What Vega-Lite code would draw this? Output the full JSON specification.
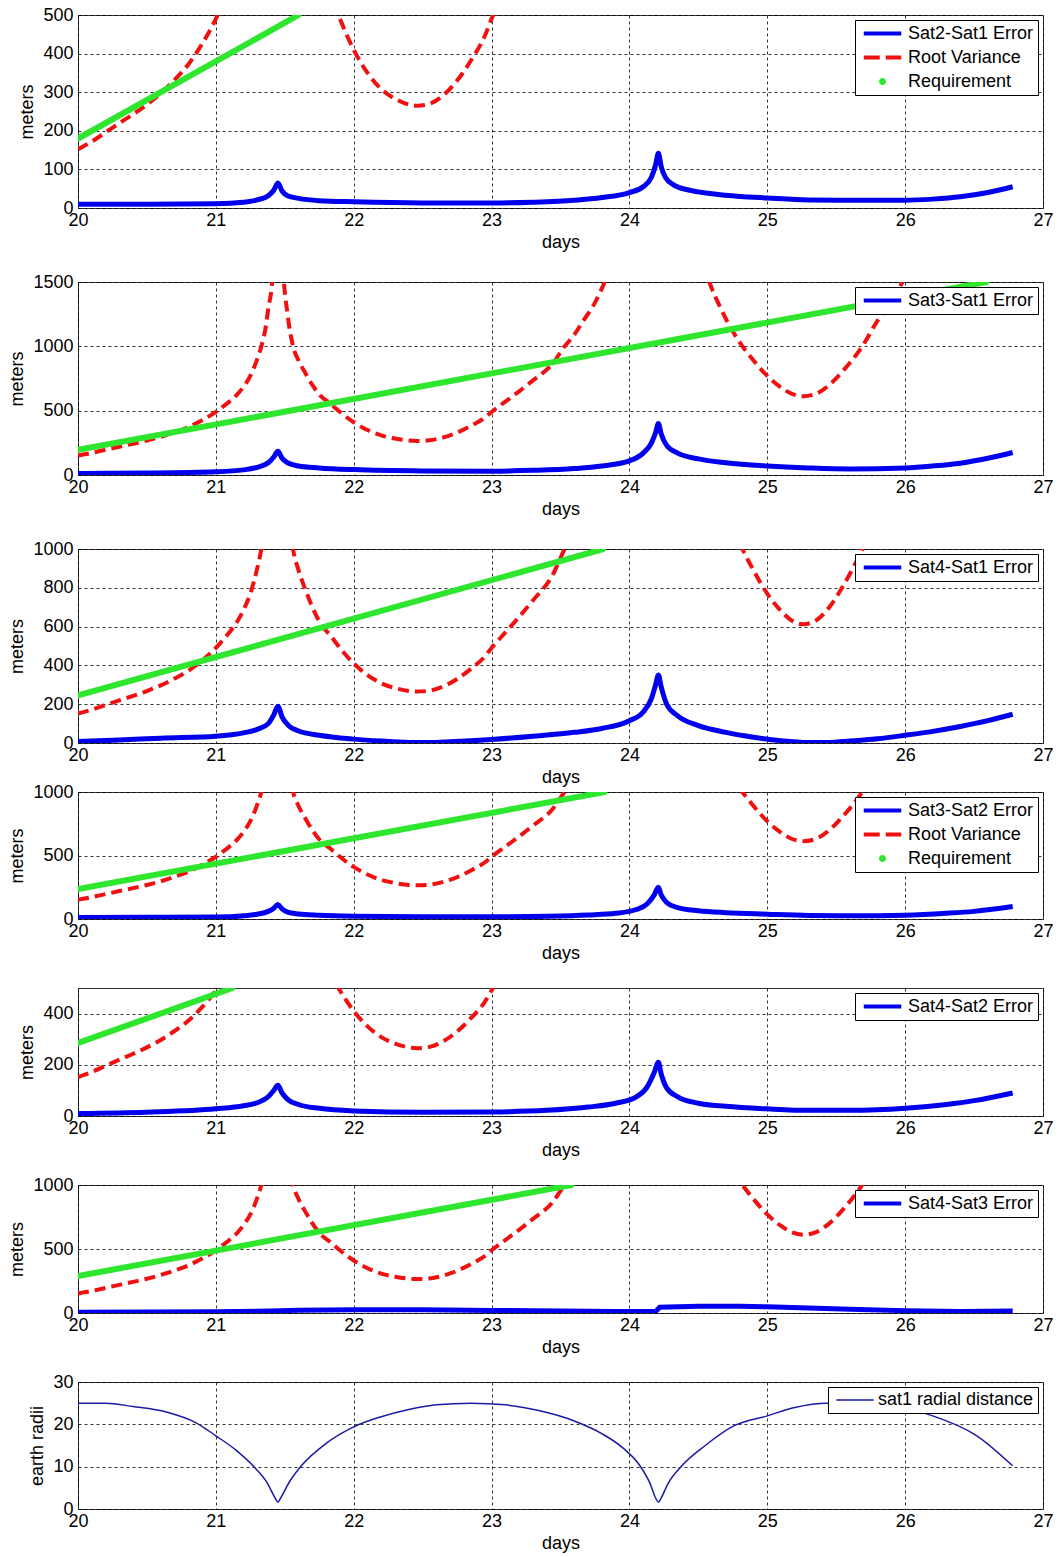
{
  "$schema": "https://vega.github.io/schema/vega-lite/v6.json",
  "padding": {"left": 8, "top": 5, "right": 5, "bottom": 0},
  "background": "#ffffff",
  "datasets": {
    "rv": [
      {"d":20,"v":152},{"d":20.1,"v":172},{"d":20.2,"v":196},{"d":20.3,"v":220},{"d":20.4,"v":243},{"d":20.5,"v":268},{"d":20.6,"v":297},{"d":20.7,"v":332},{"d":20.8,"v":372},{"d":20.9,"v":425},{"d":21.0,"v":490},{"d":21.05,"v":530},{"d":21.1,"v":572},{"d":21.15,"v":620},{"d":21.2,"v":685},{"d":21.25,"v":770},{"d":21.3,"v":900},{"d":21.33,"v":1000},{"d":21.36,"v":1140},{"d":21.38,"v":1290},{"d":21.41,"v":1520},{"d":21.43,"v":1900},{"d":21.45,"v":2600},{"d":21.47,"v":2000},{"d":21.49,"v":1560},{"d":21.52,"v":1250},{"d":21.56,"v":1000},{"d":21.6,"v":890},{"d":21.65,"v":790},{"d":21.7,"v":700},{"d":21.76,"v":615},{"d":21.83,"v":555},{"d":21.9,"v":490},{"d":22.0,"v":410},{"d":22.1,"v":350},{"d":22.2,"v":308},{"d":22.3,"v":283},{"d":22.4,"v":268},{"d":22.46,"v":265},{"d":22.55,"v":270},{"d":22.65,"v":292},{"d":22.75,"v":330},{"d":22.85,"v":382},{"d":22.95,"v":445},{"d":23.0,"v":490},{"d":23.1,"v":570},{"d":23.2,"v":650},{"d":23.3,"v":735},{"d":23.44,"v":862},{"d":23.53,"v":1000},{"d":23.6,"v":1090},{"d":23.66,"v":1190},{"d":23.75,"v":1340},{"d":23.82,"v":1500},{"d":23.9,"v":1750},{"d":24.0,"v":2200},{"d":24.1,"v":3000},{"d":24.2,"v":4000},{"d":24.3,"v":3000},{"d":24.45,"v":2000},{"d":24.58,"v":1500},{"d":24.66,"v":1300},{"d":24.74,"v":1134},{"d":24.82,"v":1000},{"d":24.9,"v":890},{"d":25.0,"v":770},{"d":25.1,"v":680},{"d":25.18,"v":630},{"d":25.26,"v":612},{"d":25.35,"v":630},{"d":25.45,"v":700},{"d":25.55,"v":810},{"d":25.69,"v":1002},{"d":25.8,"v":1200},{"d":25.9,"v":1350},{"d":25.98,"v":1500},{"d":26.1,"v":1800},{"d":26.2,"v":2100}
    ],
    "req": [
      {"p":1,"d":20,"v":180},{"p":1,"d":21.6,"v":500},
      {"p":2,"d":20,"v":195},{"p":2,"d":26.59,"v":1500},
      {"p":3,"d":20,"v":245},{"p":3,"d":23.81,"v":1000},
      {"p":4,"d":20,"v":236},{"p":4,"d":23.82,"v":1000},
      {"p":5,"d":20,"v":285},{"p":5,"d":21.12,"v":500},
      {"p":6,"d":20,"v":289},{"p":6,"d":23.58,"v":1000}
    ],
    "err": [
      {"p":1,"d":20,"v":10},{"p":1,"d":20.5,"v":10},{"p":1,"d":21,"v":11},{"p":1,"d":21.2,"v":15},{"p":1,"d":21.3,"v":21},{"p":1,"d":21.38,"v":32},{"p":1,"d":21.42,"v":46},{"p":1,"d":21.45,"v":65},{"p":1,"d":21.48,"v":44},{"p":1,"d":21.52,"v":32},{"p":1,"d":21.6,"v":25},{"p":1,"d":21.75,"v":19},{"p":1,"d":22,"v":16},{"p":1,"d":22.5,"v":13},{"p":1,"d":23,"v":13},{"p":1,"d":23.3,"v":15},{"p":1,"d":23.6,"v":20},{"p":1,"d":23.8,"v":27},{"p":1,"d":24,"v":40},{"p":1,"d":24.1,"v":55},{"p":1,"d":24.16,"v":80},{"p":1,"d":24.19,"v":112},{"p":1,"d":24.21,"v":142},{"p":1,"d":24.23,"v":108},{"p":1,"d":24.26,"v":80},{"p":1,"d":24.32,"v":60},{"p":1,"d":24.45,"v":45},{"p":1,"d":24.6,"v":37},{"p":1,"d":24.8,"v":30},{"p":1,"d":25,"v":26},{"p":1,"d":25.3,"v":21},{"p":1,"d":25.6,"v":20},{"p":1,"d":26,"v":20},{"p":1,"d":26.2,"v":23},{"p":1,"d":26.4,"v":29},{"p":1,"d":26.6,"v":40},{"p":1,"d":26.78,"v":55},
      {"p":2,"d":20,"v":12},{"p":2,"d":20.5,"v":15},{"p":2,"d":21,"v":25},{"p":2,"d":21.2,"v":40},{"p":2,"d":21.3,"v":60},{"p":2,"d":21.38,"v":95},{"p":2,"d":21.42,"v":140},{"p":2,"d":21.45,"v":185},{"p":2,"d":21.48,"v":130},{"p":2,"d":21.52,"v":95},{"p":2,"d":21.6,"v":70},{"p":2,"d":21.75,"v":55},{"p":2,"d":22,"v":42},{"p":2,"d":22.5,"v":32},{"p":2,"d":23,"v":30},{"p":2,"d":23.3,"v":36},{"p":2,"d":23.6,"v":50},{"p":2,"d":23.8,"v":70},{"p":2,"d":24,"v":110},{"p":2,"d":24.1,"v":170},{"p":2,"d":24.16,"v":250},{"p":2,"d":24.19,"v":330},{"p":2,"d":24.21,"v":400},{"p":2,"d":24.23,"v":320},{"p":2,"d":24.27,"v":230},{"p":2,"d":24.35,"v":170},{"p":2,"d":24.5,"v":125},{"p":2,"d":24.7,"v":95},{"p":2,"d":25,"v":70},{"p":2,"d":25.3,"v":55},{"p":2,"d":25.6,"v":47},{"p":2,"d":26,"v":55},{"p":2,"d":26.2,"v":70},{"p":2,"d":26.4,"v":92},{"p":2,"d":26.6,"v":130},{"p":2,"d":26.78,"v":175},
      {"p":3,"d":20,"v":8},{"p":3,"d":20.3,"v":15},{"p":3,"d":20.6,"v":25},{"p":3,"d":21,"v":35},{"p":3,"d":21.2,"v":52},{"p":3,"d":21.3,"v":70},{"p":3,"d":21.38,"v":100},{"p":3,"d":21.42,"v":145},{"p":3,"d":21.45,"v":190},{"p":3,"d":21.48,"v":135},{"p":3,"d":21.52,"v":95},{"p":3,"d":21.6,"v":62},{"p":3,"d":21.75,"v":40},{"p":3,"d":22,"v":20},{"p":3,"d":22.2,"v":10},{"p":3,"d":22.4,"v":3},{"p":3,"d":22.55,"v":2},{"p":3,"d":22.7,"v":6},{"p":3,"d":23,"v":18},{"p":3,"d":23.3,"v":35},{"p":3,"d":23.6,"v":55},{"p":3,"d":23.8,"v":75},{"p":3,"d":24,"v":115},{"p":3,"d":24.1,"v":160},{"p":3,"d":24.16,"v":230},{"p":3,"d":24.19,"v":300},{"p":3,"d":24.21,"v":350},{"p":3,"d":24.23,"v":290},{"p":3,"d":24.27,"v":200},{"p":3,"d":24.35,"v":140},{"p":3,"d":24.5,"v":90},{"p":3,"d":24.7,"v":55},{"p":3,"d":24.9,"v":30},{"p":3,"d":25.1,"v":12},{"p":3,"d":25.3,"v":3},{"p":3,"d":25.45,"v":3},{"p":3,"d":25.6,"v":10},{"p":3,"d":25.8,"v":22},{"p":3,"d":26,"v":40},{"p":3,"d":26.2,"v":60},{"p":3,"d":26.4,"v":85},{"p":3,"d":26.6,"v":115},{"p":3,"d":26.78,"v":148},
      {"p":4,"d":20,"v":12},{"p":4,"d":20.5,"v":13},{"p":4,"d":21,"v":15},{"p":4,"d":21.2,"v":25},{"p":4,"d":21.3,"v":38},{"p":4,"d":21.38,"v":60},{"p":4,"d":21.42,"v":85},{"p":4,"d":21.45,"v":115},{"p":4,"d":21.48,"v":80},{"p":4,"d":21.52,"v":55},{"p":4,"d":21.6,"v":40},{"p":4,"d":21.75,"v":30},{"p":4,"d":22,"v":22},{"p":4,"d":22.5,"v":17},{"p":4,"d":23,"v":17},{"p":4,"d":23.4,"v":22},{"p":4,"d":23.7,"v":32},{"p":4,"d":23.9,"v":45},{"p":4,"d":24.05,"v":75},{"p":4,"d":24.13,"v":120},{"p":4,"d":24.18,"v":190},{"p":4,"d":24.21,"v":250},{"p":4,"d":24.23,"v":190},{"p":4,"d":24.27,"v":130},{"p":4,"d":24.35,"v":90},{"p":4,"d":24.5,"v":65},{"p":4,"d":24.7,"v":50},{"p":4,"d":25,"v":38},{"p":4,"d":25.3,"v":28},{"p":4,"d":25.6,"v":25},{"p":4,"d":26,"v":30},{"p":4,"d":26.3,"v":45},{"p":4,"d":26.5,"v":60},{"p":4,"d":26.78,"v":98},
      {"p":5,"d":20,"v":10},{"p":5,"d":20.5,"v":15},{"p":5,"d":21,"v":28},{"p":5,"d":21.2,"v":40},{"p":5,"d":21.3,"v":52},{"p":5,"d":21.38,"v":75},{"p":5,"d":21.42,"v":100},{"p":5,"d":21.45,"v":120},{"p":5,"d":21.48,"v":90},{"p":5,"d":21.52,"v":65},{"p":5,"d":21.6,"v":45},{"p":5,"d":21.75,"v":30},{"p":5,"d":22,"v":20},{"p":5,"d":22.5,"v":15},{"p":5,"d":23,"v":16},{"p":5,"d":23.4,"v":22},{"p":5,"d":23.7,"v":35},{"p":5,"d":23.9,"v":50},{"p":5,"d":24.05,"v":75},{"p":5,"d":24.13,"v":115},{"p":5,"d":24.18,"v":170},{"p":5,"d":24.21,"v":210},{"p":5,"d":24.23,"v":165},{"p":5,"d":24.27,"v":110},{"p":5,"d":24.35,"v":75},{"p":5,"d":24.5,"v":50},{"p":5,"d":24.7,"v":38},{"p":5,"d":25,"v":28},{"p":5,"d":25.3,"v":22},{"p":5,"d":25.6,"v":22},{"p":5,"d":26,"v":30},{"p":5,"d":26.3,"v":45},{"p":5,"d":26.5,"v":60},{"p":5,"d":26.78,"v":90},
      {"p":6,"d":20,"v":5},{"p":6,"d":20.5,"v":7},{"p":6,"d":21,"v":10},{"p":6,"d":21.4,"v":15},{"p":6,"d":21.6,"v":22},{"p":6,"d":22,"v":26},{"p":6,"d":22.5,"v":25},{"p":6,"d":23,"v":20},{"p":6,"d":23.5,"v":15},{"p":6,"d":23.9,"v":12},{"p":6,"d":24.19,"v":12},{"p":6,"d":24.22,"v":45},{"p":6,"d":24.5,"v":52},{"p":6,"d":24.8,"v":52},{"p":6,"d":25,"v":48},{"p":6,"d":25.3,"v":40},{"p":6,"d":25.6,"v":30},{"p":6,"d":26,"v":18},{"p":6,"d":26.4,"v":12},{"p":6,"d":26.78,"v":15}
    ],
    "rad": [
      {"d":20,"v":25.0},{"d":20.2,"v":25.0},{"d":20.4,"v":24.2},{"d":20.64,"v":22.9},{"d":20.86,"v":20.3},{"d":21.0,"v":17.3},{"d":21.15,"v":13.8},{"d":21.27,"v":10.2},{"d":21.37,"v":6.3},{"d":21.43,"v":2.6},{"d":21.45,"v":1.6},{"d":21.47,"v":2.6},{"d":21.53,"v":6.2},{"d":21.62,"v":10.2},{"d":21.8,"v":15.5},{"d":22.0,"v":19.4},{"d":22.2,"v":21.8},{"d":22.4,"v":23.5},{"d":22.6,"v":24.6},{"d":22.85,"v":25.0},{"d":23.1,"v":24.6},{"d":23.35,"v":23.2},{"d":23.6,"v":20.8},{"d":23.8,"v":17.8},{"d":23.95,"v":14.5},{"d":24.07,"v":10.5},{"d":24.15,"v":6.0},{"d":24.19,"v":2.6},{"d":24.21,"v":1.6},{"d":24.23,"v":2.6},{"d":24.28,"v":6.0},{"d":24.38,"v":10.2},{"d":24.55,"v":15.0},{"d":24.75,"v":19.5},{"d":25.0,"v":22.0},{"d":25.2,"v":24.0},{"d":25.43,"v":25.0},{"d":25.65,"v":25.0},{"d":25.9,"v":24.3},{"d":26.2,"v":22.0},{"d":26.52,"v":17.3},{"d":26.78,"v":10.2}
    ]
  },
  "config": {
    "font": "Liberation Sans",
    "view": {"stroke": "#333333", "strokeWidth": 1},
    "axis": {"labelFont": "Liberation Sans", "labelFontSize": 18, "labelColor": "#000000", "titleFont": "Liberation Sans", "titleFontSize": 18, "titleFontWeight": "normal", "titleColor": "#000000", "ticks": false, "domain": false, "grid": true, "gridColor": "#000000", "gridDash": [3, 3], "gridOpacity": 0.8, "gridWidth": 1, "labelOverlap": false, "labelFlush": false, "tickCount": 20},
    "axisX": {"labelPadding": 3, "titlePadding": 4},
    "axisY": {"labelPadding": 5, "titlePadding": 6},
    "legend": {"orient": "top-right", "offset": 5, "strokeColor": "#000000", "fillColor": "#ffffff", "padding": 4, "labelFont": "Liberation Sans", "labelFontSize": 18, "labelColor": "#000000", "symbolType": "M-2.5,0H2.5", "symbolSize": 225, "symbolStrokeWidth": 4, "symbolOffset": 14, "rowPadding": 5, "labelOffset": 16, "labelLimit": 400, "cornerRadius": 0}
  },
  "spacing": -5,
  "resolve": {"scale": {"color": "independent", "x": "independent", "y": "independent"}},
  "vconcat": [
    {
      "spacing": 20,
      "resolve": {"scale": {"color": "independent", "x": "independent", "y": "independent"}},
      "vconcat": [
        {
          "width": 965, "height": 193,
          "layer": [
            {"data": {"name": "err"}, "transform": [{"filter": "datum.p == 1"}], "mark": {"type": "line", "clip": true, "strokeWidth": 5, "interpolate": "monotone"},
             "encoding": {
               "x": {"field": "d", "type": "quantitative", "scale": {"domain": [20, 27], "nice": false}, "axis": {"values": [20,21,22,23,24,25,26,27], "tickCount": 20, "format": "d", "labelOverlap": false, "title": "days"}},
               "y": {"field": "v", "type": "quantitative", "scale": {"domain": [0, 500], "nice": false}, "axis": {"values": [0,100,200,300,400,500], "tickCount": 20, "format": "d", "labelOverlap": false, "title": "meters"}},
               "color": {"datum": "Sat2-Sat1 Error", "type": "nominal", "scale": {"domain": ["Sat2-Sat1 Error", "Root Variance", "Requirement"], "range": ["#0000ee", "#f01010", "#2ee62e"]},
                 "legend": {"title": null, "encode": {"symbols": {"update": {
                   "shape": {"signal": "datum.value === 'Requirement' ? 'M-0.2,0A0.2,0.2,0,1,1,0.2,0A0.2,0.2,0,1,1,-0.2,0Z' : 'M-2.5,0H2.5'"},
                   "fill": {"signal": "datum.value === 'Requirement' ? '#2ee62e' : 'transparent'"},
                   "strokeDash": {"signal": "datum.value === 'Root Variance' ? [16,6] : [40,0]"}}}}}}
             }},
            {"data": {"name": "rv"}, "mark": {"type": "line", "clip": true, "strokeWidth": 4, "strokeDash": [11, 6], "interpolate": "monotone"},
             "encoding": {"x": {"field": "d", "type": "quantitative"}, "y": {"field": "v", "type": "quantitative"}, "color": {"datum": "Root Variance", "type": "nominal"}}},
            {"data": {"name": "req"}, "transform": [{"filter": "datum.p == 1"}], "mark": {"type": "line", "clip": true, "strokeWidth": 6, "strokeCap": "round"},
             "encoding": {"x": {"field": "d", "type": "quantitative"}, "y": {"field": "v", "type": "quantitative"}, "color": {"datum": "Requirement", "type": "nominal"}}}
          ]
        },
        {
          "width": 965, "height": 193,
          "layer": [
            {"data": {"name": "err"}, "transform": [{"filter": "datum.p == 2"}], "mark": {"type": "line", "clip": true, "strokeWidth": 5, "interpolate": "monotone"},
             "encoding": {
               "x": {"field": "d", "type": "quantitative", "scale": {"domain": [20, 27], "nice": false}, "axis": {"values": [20,21,22,23,24,25,26,27], "tickCount": 20, "format": "d", "labelOverlap": false, "title": "days"}},
               "y": {"field": "v", "type": "quantitative", "scale": {"domain": [0, 1500], "nice": false}, "axis": {"values": [0,500,1000,1500], "tickCount": 20, "format": "d", "labelOverlap": false, "title": "meters"}},
               "color": {"datum": "Sat3-Sat1 Error", "type": "nominal", "scale": {"domain": ["Sat3-Sat1 Error"], "range": ["#0000ee"]}, "legend": {"title": null}}
             }},
            {"data": {"name": "rv"}, "mark": {"type": "line", "clip": true, "strokeWidth": 4, "strokeDash": [11, 6], "interpolate": "monotone", "color": "#f01010"},
             "encoding": {"x": {"field": "d", "type": "quantitative"}, "y": {"field": "v", "type": "quantitative"}}},
            {"data": {"name": "req"}, "transform": [{"filter": "datum.p == 2"}], "mark": {"type": "line", "clip": true, "strokeWidth": 6, "strokeCap": "round", "color": "#2ee62e"},
             "encoding": {"x": {"field": "d", "type": "quantitative"}, "y": {"field": "v", "type": "quantitative"}}}
          ]
        },
        {
          "width": 965, "height": 194,
          "layer": [
            {"data": {"name": "err"}, "transform": [{"filter": "datum.p == 3"}], "mark": {"type": "line", "clip": true, "strokeWidth": 5, "interpolate": "monotone"},
             "encoding": {
               "x": {"field": "d", "type": "quantitative", "scale": {"domain": [20, 27], "nice": false}, "axis": {"values": [20,21,22,23,24,25,26,27], "tickCount": 20, "format": "d", "labelOverlap": false, "title": "days"}},
               "y": {"field": "v", "type": "quantitative", "scale": {"domain": [0, 1000], "nice": false}, "axis": {"values": [0,200,400,600,800,1000], "tickCount": 20, "format": "d", "labelOverlap": false, "title": "meters"}},
               "color": {"datum": "Sat4-Sat1 Error", "type": "nominal", "scale": {"domain": ["Sat4-Sat1 Error"], "range": ["#0000ee"]}, "legend": {"title": null}}
             }},
            {"data": {"name": "rv"}, "mark": {"type": "line", "clip": true, "strokeWidth": 4, "strokeDash": [11, 6], "interpolate": "monotone", "color": "#f01010"},
             "encoding": {"x": {"field": "d", "type": "quantitative"}, "y": {"field": "v", "type": "quantitative"}}},
            {"data": {"name": "req"}, "transform": [{"filter": "datum.p == 3"}], "mark": {"type": "line", "clip": true, "strokeWidth": 6, "strokeCap": "round", "color": "#2ee62e"},
             "encoding": {"x": {"field": "d", "type": "quantitative"}, "y": {"field": "v", "type": "quantitative"}}}
          ]
        }
      ]
    },
    {
      "spacing": 24,
      "resolve": {"scale": {"color": "independent", "x": "independent", "y": "independent"}},
      "vconcat": [
        {
          "width": 965, "height": 127,
          "layer": [
            {"data": {"name": "err"}, "transform": [{"filter": "datum.p == 4"}], "mark": {"type": "line", "clip": true, "strokeWidth": 5, "interpolate": "monotone"},
             "encoding": {
               "x": {"field": "d", "type": "quantitative", "scale": {"domain": [20, 27], "nice": false}, "axis": {"values": [20,21,22,23,24,25,26,27], "tickCount": 20, "format": "d", "labelOverlap": false, "title": "days"}},
               "y": {"field": "v", "type": "quantitative", "scale": {"domain": [0, 1000], "nice": false}, "axis": {"values": [0,500,1000], "tickCount": 20, "format": "d", "labelOverlap": false, "title": "meters"}},
               "color": {"datum": "Sat3-Sat2 Error", "type": "nominal", "scale": {"domain": ["Sat3-Sat2 Error", "Root Variance", "Requirement"], "range": ["#0000ee", "#f01010", "#2ee62e"]},
                 "legend": {"title": null, "encode": {"symbols": {"update": {
                   "shape": {"signal": "datum.value === 'Requirement' ? 'M-0.2,0A0.2,0.2,0,1,1,0.2,0A0.2,0.2,0,1,1,-0.2,0Z' : 'M-2.5,0H2.5'"},
                   "fill": {"signal": "datum.value === 'Requirement' ? '#2ee62e' : 'transparent'"},
                   "strokeDash": {"signal": "datum.value === 'Root Variance' ? [16,6] : [40,0]"}}}}}}
             }},
            {"data": {"name": "rv"}, "mark": {"type": "line", "clip": true, "strokeWidth": 4, "strokeDash": [11, 6], "interpolate": "monotone"},
             "encoding": {"x": {"field": "d", "type": "quantitative"}, "y": {"field": "v", "type": "quantitative"}, "color": {"datum": "Root Variance", "type": "nominal"}}},
            {"data": {"name": "req"}, "transform": [{"filter": "datum.p == 4"}], "mark": {"type": "line", "clip": true, "strokeWidth": 6, "strokeCap": "round"},
             "encoding": {"x": {"field": "d", "type": "quantitative"}, "y": {"field": "v", "type": "quantitative"}, "color": {"datum": "Requirement", "type": "nominal"}}}
          ]
        },
        {
          "spacing": 15,
          "resolve": {"scale": {"color": "independent", "x": "independent", "y": "independent"}},
          "vconcat": [
            {
              "width": 965, "height": 128,
              "layer": [
                {"data": {"name": "err"}, "transform": [{"filter": "datum.p == 5"}], "mark": {"type": "line", "clip": true, "strokeWidth": 5, "interpolate": "monotone"},
                 "encoding": {
                   "x": {"field": "d", "type": "quantitative", "scale": {"domain": [20, 27], "nice": false}, "axis": {"values": [20,21,22,23,24,25,26,27], "tickCount": 20, "format": "d", "labelOverlap": false, "title": "days"}},
                   "y": {"field": "v", "type": "quantitative", "scale": {"domain": [0, 500], "nice": false}, "axis": {"values": [0,200,400], "tickCount": 20, "format": "d", "labelOverlap": false, "title": "meters"}},
                   "color": {"datum": "Sat4-Sat2 Error", "type": "nominal", "scale": {"domain": ["Sat4-Sat2 Error"], "range": ["#0000ee"]}, "legend": {"title": null}}
                 }},
                {"data": {"name": "rv"}, "mark": {"type": "line", "clip": true, "strokeWidth": 4, "strokeDash": [11, 6], "interpolate": "monotone", "color": "#f01010"},
                 "encoding": {"x": {"field": "d", "type": "quantitative"}, "y": {"field": "v", "type": "quantitative"}}},
                {"data": {"name": "req"}, "transform": [{"filter": "datum.p == 5"}], "mark": {"type": "line", "clip": true, "strokeWidth": 6, "strokeCap": "round", "color": "#2ee62e"},
                 "encoding": {"x": {"field": "d", "type": "quantitative"}, "y": {"field": "v", "type": "quantitative"}}}
              ]
            },
            {
              "width": 965, "height": 128,
              "layer": [
                {"data": {"name": "err"}, "transform": [{"filter": "datum.p == 6"}], "mark": {"type": "line", "clip": true, "strokeWidth": 5},
                 "encoding": {
                   "x": {"field": "d", "type": "quantitative", "scale": {"domain": [20, 27], "nice": false}, "axis": {"values": [20,21,22,23,24,25,26,27], "tickCount": 20, "format": "d", "labelOverlap": false, "title": "days"}},
                   "y": {"field": "v", "type": "quantitative", "scale": {"domain": [0, 1000], "nice": false}, "axis": {"values": [0,500,1000], "tickCount": 20, "format": "d", "labelOverlap": false, "title": "meters"}},
                   "color": {"datum": "Sat4-Sat3 Error", "type": "nominal", "scale": {"domain": ["Sat4-Sat3 Error"], "range": ["#0000ee"]}, "legend": {"title": null}}
                 }},
                {"data": {"name": "rv"}, "mark": {"type": "line", "clip": true, "strokeWidth": 4, "strokeDash": [11, 6], "interpolate": "monotone", "color": "#f01010"},
                 "encoding": {"x": {"field": "d", "type": "quantitative"}, "y": {"field": "v", "type": "quantitative"}}},
                {"data": {"name": "req"}, "transform": [{"filter": "datum.p == 6"}], "mark": {"type": "line", "clip": true, "strokeWidth": 6, "strokeCap": "round", "color": "#2ee62e"},
                 "encoding": {"x": {"field": "d", "type": "quantitative"}, "y": {"field": "v", "type": "quantitative"}}}
              ]
            },
            {
              "width": 965, "height": 127,
              "layer": [
                {"data": {"name": "rad"}, "mark": {"type": "line", "clip": true, "strokeWidth": 1.5, "interpolate": "monotone"},
                 "encoding": {
                   "x": {"field": "d", "type": "quantitative", "scale": {"domain": [20, 27], "nice": false}, "axis": {"values": [20,21,22,23,24,25,26,27], "tickCount": 20, "format": "d", "labelOverlap": false, "title": "days"}},
                   "y": {"field": "v", "type": "quantitative", "scale": {"domain": [0, 30], "nice": false}, "axis": {"values": [0,10,20,30], "tickCount": 20, "format": "d", "labelOverlap": false, "title": "earth radii"}},
                   "color": {"datum": "sat1 radial distance", "type": "nominal", "scale": {"domain": ["sat1 radial distance"], "range": ["#1a1aa6"]}, "legend": {"title": null, "symbolStrokeWidth": 1.5, "symbolOffset": 14, "labelOffset": 14}}
                 }}
              ]
            }
          ]
        }
      ]
    }
  ]
}
